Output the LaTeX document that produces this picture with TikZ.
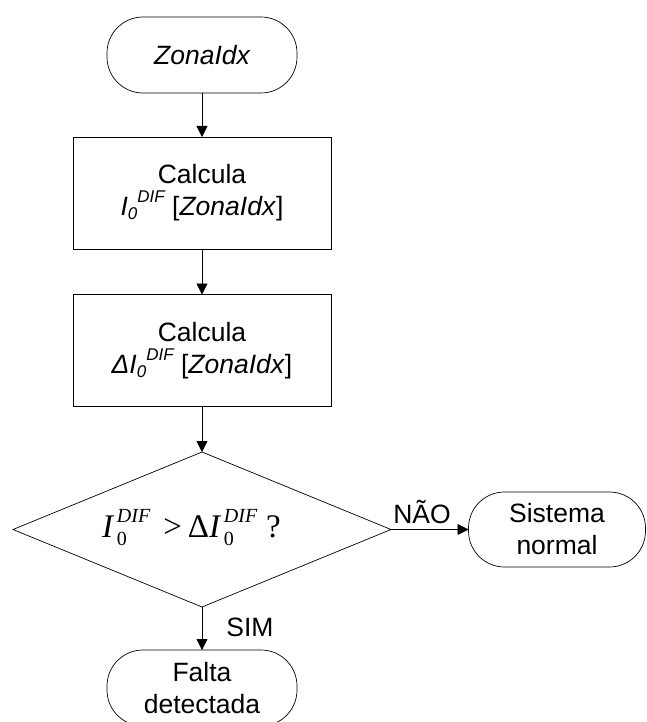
\documentclass[tikz,border=0pt]{standalone}
\usepackage{fontspec}
\setmainfont{Liberation Sans}
\newfontfamily\tms{Liberation Serif}
\usetikzlibrary{arrows.meta,shapes.geometric}

% staggered sans-serif indices used in the process boxes
\newcommand\supx[1]{\raisebox{0.5em}{\fontsize{17}{17}\selectfont\itshape #1}}
\newcommand\subx[1]{\raisebox{-0.15em}{\fontsize{17}{17}\selectfont\itshape #1}}
% stacked serif indices used in the decision
\newcommand\stackidx[2]{%
  \kern2.5pt\rlap{\raisebox{-8pt}{\fontsize{20}{20}\selectfont #1}}%
  \raisebox{15pt}{\fontsize{20}{20}\selectfont\itshape #2}}

\tikzset{
  base/.style={draw=black, line width=0.7pt, inner sep=0pt, outer sep=0pt,
    align=center, font=\fontsize{26.5}{32}\selectfont},
  term/.style={base, rectangle, rounded corners=36pt,
    minimum width=190pt, minimum height=76pt},
  proc/.style={base, rectangle, minimum width=258pt, minimum height=112pt},
  decide/.style={base, diamond, minimum width=378pt, minimum height=155pt},
  arr/.style={draw=black, line width=0.8pt, -{Triangle[length=11pt,width=11pt]}},
  lbl/.style={inner sep=0pt, font=\fontsize{26.5}{32}\selectfont},
  cond/.style={inner sep=0pt, font=\fontsize{33}{36}\selectfont\tms}
}

\begin{document}
\begin{tikzpicture}[x=1pt,y=-1pt]
  \useasboundingbox (0,0) rectangle (646,722);

  \node[term] (start) at (202,55) {\itshape ZonaIdx};
  \node[proc] (calc1) at (202,193)
    {Calcula\\\textit{I}\subx{0}\supx{DIF} [\textit{ZonaIdx}]};
  \node[proc] (calc2) at (202,350.5)
    {Calcula\\\textit{ΔI}\subx{0}\supx{DIF} [\textit{ZonaIdx}]};
  \node[decide] (test) at (202,529.5) {};
  \node[cond, anchor=base west] (testtext) at (102,537)
    {\textit{I}\stackidx{0}{DIF}\kern13pt>\kern6ptΔ\textit{I}\stackidx{0}{DIF}\kern9pt?};
  \node[term, minimum width=177pt, minimum height=75pt] (normal) at (557,529.5)
    {Sistema\\normal};
  \node[term] (fault) at (202,688) {Falta\\detectada};

  \draw[arr] (start) -- (calc1);
  \draw[arr] (calc1) -- (calc2);
  \draw[arr] (calc2) -- (test.north);
  \draw[arr] (test.east) -- node[lbl, pos=0.4, above=5pt] {NÃO} (normal.west);
  \draw[arr] (test.south) -- node[lbl, pos=0.47, right=24pt] {SIM} (fault.north);
\end{tikzpicture}
\end{document}
